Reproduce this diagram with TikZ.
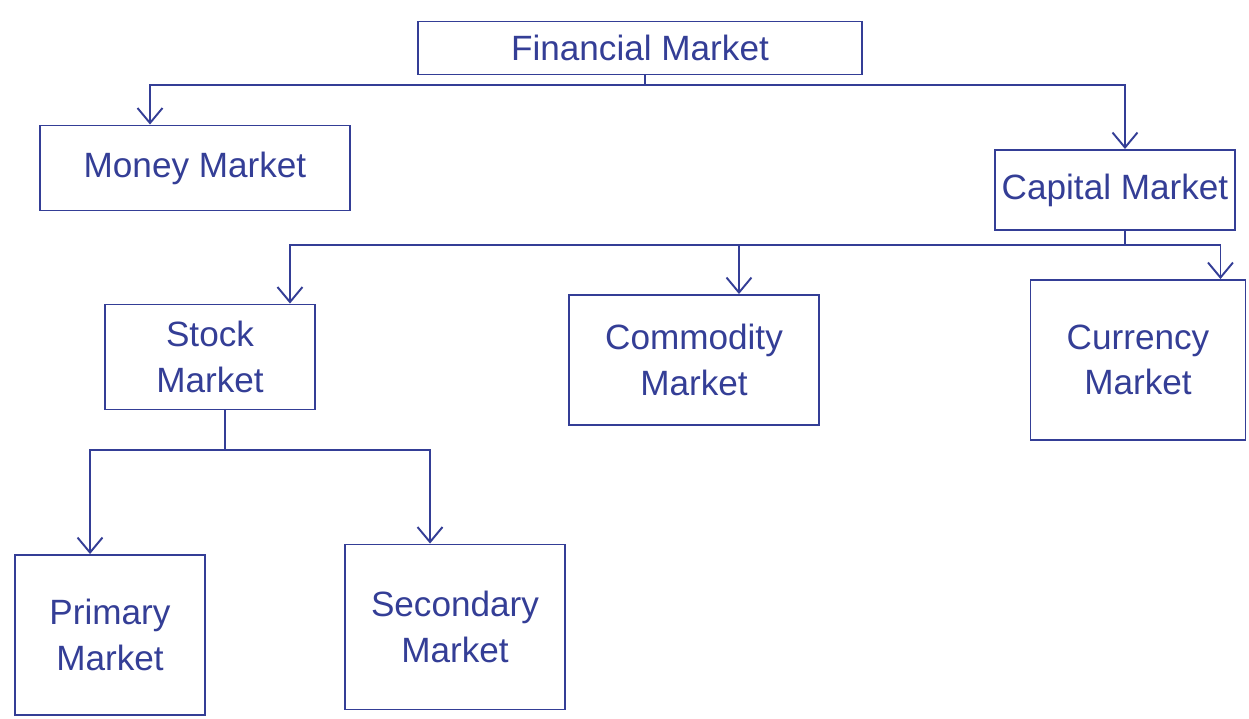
\documentclass[tikz,border=0pt]{standalone}
\usepackage{fontspec}
\setmainfont{Liberation Sans}
\usepackage{xcolor}
\definecolor{ink}{RGB}{52,62,150}
\usepackage{tikz}
\usetikzlibrary{arrows.meta,positioning}

\begin{document}
\begin{tikzpicture}[
    x=0.02cm, y=-0.02cm,
    box/.style={draw=ink, line width=1.1pt, text=ink, align=center, inner sep=2pt, font=\fontsize{20}{26}\selectfont},
    arr/.style={-{Straight Barb[length=3mm, width=5mm]}, line width=1.1pt, ink},
    lin/.style={line width=1.1pt, ink}
]
\useasboundingbox (0,0) rectangle (1249,719);

\node[box, minimum width=8.9cm, minimum height=1.06cm] (fin) at (640,48) {Financial Market};
\node[box, minimum width=6.2cm, minimum height=1.7cm] (money) at (195,168) {Money Market};
\node[box, minimum width=4.8cm, minimum height=1.6cm] (capital) at (1115,190) {Capital Market};
\node[box, minimum width=4.2cm, minimum height=2.1cm] (stock) at (210,357) {Stock\\Market};
\node[box, minimum width=5.0cm, minimum height=2.6cm] (commod) at (694,360) {Commodity\\Market};
\node[box, minimum width=4.3cm, minimum height=3.2cm] (curr) at (1138,360) {Currency\\Market};
\node[box, minimum width=3.8cm, minimum height=3.2cm] (prim) at (110,635) {Primary\\Market};
\node[box, minimum width=4.4cm, minimum height=3.3cm] (second) at (455,627) {Secondary\\Market};

% junctions
\coordinate (j1) at (645,85);
\coordinate (j2) at (1125,245);
\coordinate (j3) at (225,450);

\draw[lin] (fin.south -| j1) -- (j1);
\draw[arr] (j1) -| ([xshift=-0.9cm]money.north);
\draw[arr] (j1) -| ([xshift=0.2cm]capital.north);

\draw[lin] (capital.south -| j2) -- (j2);
\draw[arr] (j2) -| ([xshift=1.6cm]stock.north);
\draw[arr] (j2) -| ([xshift=0.9cm]commod.north);
\draw[arr] (j2) -| ([xshift=1.65cm]curr.north);

\draw[lin] (stock.south -| j3) -- (j3);
\draw[arr] (j3) -| ([xshift=-0.4cm]prim.north);
\draw[arr] (j3) -| ([xshift=-0.5cm]second.north);
\end{tikzpicture}
\end{document}
